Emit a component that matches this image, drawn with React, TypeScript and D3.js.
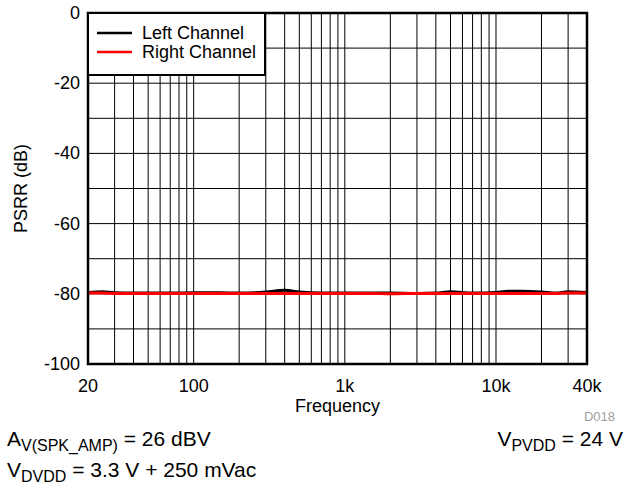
import React from "react";
import * as d3 from "d3";

const freqs = [20, 25, 30, 40, 50, 70, 100, 150, 200, 300, 400, 500, 700, 1000, 1500, 2000, 3000, 4000, 5000, 7000, 10000, 12000, 15000, 20000, 25000, 30000, 40000];
const leftCh = [-79.6, -79.4, -79.7, -79.8, -79.8, -79.8, -79.7, -79.7, -79.8, -79.5, -79.0, -79.5, -79.8, -79.8, -79.8, -79.8, -79.9, -79.8, -79.4, -79.8, -79.6, -79.3, -79.3, -79.5, -79.8, -79.4, -79.6];
const rightCh = [-79.8, -79.8, -79.9, -79.9, -79.9, -79.9, -79.9, -79.9, -79.9, -79.9, -79.9, -79.9, -79.9, -79.9, -79.9, -80.0, -79.9, -79.9, -79.9, -79.9, -79.9, -79.9, -79.9, -79.9, -79.9, -79.8, -79.8];
const xTicks = [20, 100, 1000, 10000, 40000];
const xTickLabels = ["20", "100", "1k", "10k", "40k"];
const yTicks = [0, -20, -40, -60, -80, -100];
const yGrid = [0, -10, -20, -30, -40, -50, -60, -70, -80, -90, -100];
const xGrid = [20, 30, 40, 50, 60, 70, 80, 90, 100, 200, 300, 400, 500, 600, 700, 800, 900, 1000, 2000, 3000, 4000, 5000, 6000, 7000, 8000, 9000, 10000, 20000, 30000, 40000];
const seriesNames = ["Left Channel", "Right Channel"];
const seriesColors = ["#000000", "#ff0000"];

const FONT = "Arial, 'Liberation Sans', sans-serif";

export default function App() {
  const L = 88, R = 587, T = 13, B = 364;
  const x = d3.scaleLog().domain([20, 40000]).range([L, R]);
  const y = d3.scaleLinear().domain([-100, 0]).range([B, T]);
  const line = d3
    .line<[number, number]>()
    .x((d) => x(d[0]))
    .y((d) => y(d[1]))
    .curve(d3.curveMonotoneX);
  const series = [leftCh, rightCh];

  return (
    <svg
      width={626}
      height={484}
      style={{ position: "absolute", left: 0, top: 0, background: "#fff" }}
      fontFamily={FONT}
    >
      <rect x={0} y={0} width={626} height={484} fill="#fff" />
      {xGrid.map((f) => (
        <line key={"xg" + f} x1={x(f)} x2={x(f)} y1={T} y2={B} stroke="#000" strokeWidth={1} />
      ))}
      {yGrid.map((v) => (
        <line key={"yg" + v} x1={L} x2={R} y1={y(v)} y2={y(v)} stroke="#000" strokeWidth={1} />
      ))}
      {series.map((s, i) => (
        <path
          key={"s" + i}
          d={line(freqs.map((f, j) => [f, s[j]] as [number, number])) || ""}
          fill="none"
          stroke={seriesColors[i]}
          strokeWidth={3}
        />
      ))}
      <rect x={L} y={T} width={R - L} height={B - T} fill="none" stroke="#000" strokeWidth={2.5} />
      {/* legend */}
      <rect x={L} y={T} width={177} height={62} fill="#fff" stroke="#000" strokeWidth={2} />
      {seriesNames.map((n, i) => (
        <g key={"lg" + i}>
          <line x1={97} x2={132} y1={33 + i * 19} y2={33 + i * 19} stroke={seriesColors[i]} strokeWidth={2.5} />
          <text x={142} y={39 + i * 19} fontSize={18} fill="#000">
            {n}
          </text>
        </g>
      ))}
      {/* y ticks */}
      {yTicks.map((v) => (
        <text key={"yt" + v} x={80} y={y(v) + 6} fontSize={18} textAnchor="end" fill="#000">
          {v}
        </text>
      ))}
      {xTicks.map((f, i) => (
        <text key={"xt" + f} x={x(f)} y={392} fontSize={18} textAnchor="middle" fill="#000">
          {xTickLabels[i]}
        </text>
      ))}
      <text x={(L + R) / 2} y={412} fontSize={18} textAnchor="middle" fill="#000">
        Frequency
      </text>
      <text
        transform={`translate(27,${(T + B) / 2}) rotate(-90)`}
        fontSize={18}
        textAnchor="middle"
        fill="#000"
      >
        PSRR (dB)
      </text>
      <text x={615} y={421} fontSize={13} textAnchor="end" fill="#a0a0a0">
        D018
      </text>
      <text x={7} y={446} fontSize={21} fill="#000">
        A<tspan fontSize={16} dy={5}>V(SPK_AMP)</tspan>
        <tspan dy={-5}> = 26 dBV</tspan>
      </text>
      <text x={7} y={477} fontSize={21} fill="#000">
        V<tspan fontSize={16} dy={5}>DVDD</tspan>
        <tspan dy={-5}> = 3.3 V + 250 mVac</tspan>
      </text>
      <text x={623} y={446} fontSize={21} textAnchor="end" fill="#000">
        V<tspan fontSize={16} dy={5}>PVDD</tspan>
        <tspan dy={-5}> = 24 V</tspan>
      </text>
    </svg>
  );
}
